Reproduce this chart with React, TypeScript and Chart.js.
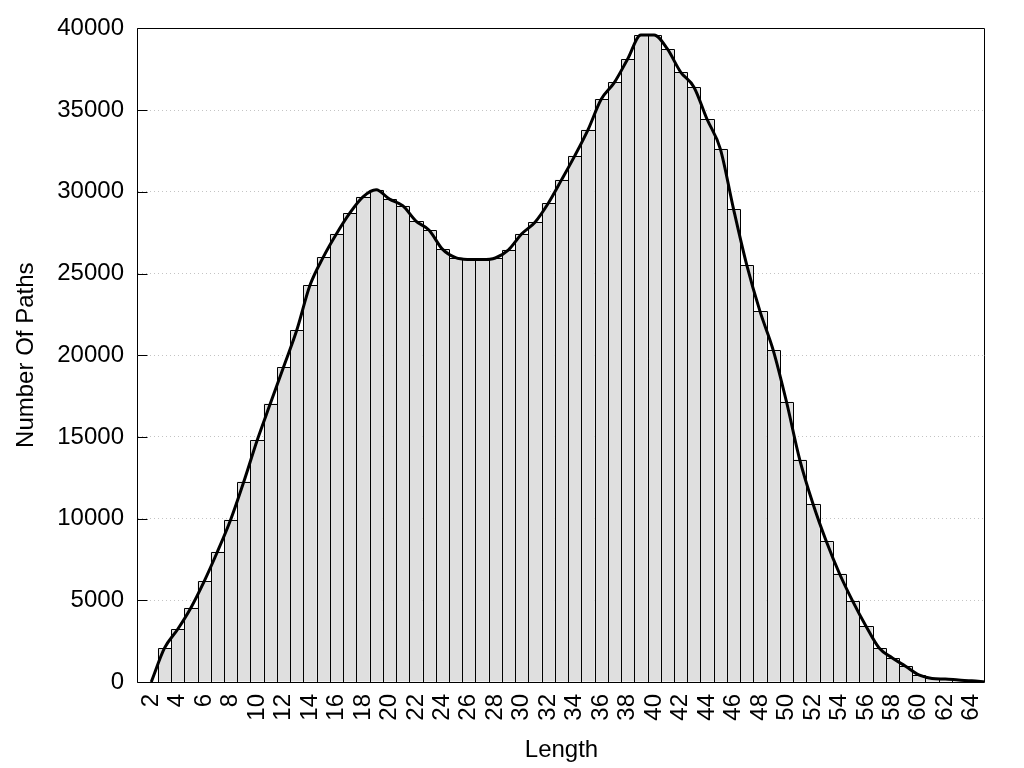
import { useEffect, useRef } from "react";
import { Chart, registerables } from "chart.js";

Chart.register(...registerables);

const lengths = [
  2, 3, 4, 5, 6, 7, 8, 9, 10, 11, 12, 13, 14, 15, 16, 17, 18, 19, 20, 21, 22,
  23, 24, 25, 26, 27, 28, 29, 30, 31, 32, 33, 34, 35, 36, 37, 38, 39, 40, 41,
  42, 43, 44, 45, 46, 47, 48, 49, 50, 51, 52, 53, 54, 55, 56, 57, 58, 59, 60,
  61, 62, 63, 64, 65,
];

const pathCounts = [
  0, 2070, 3230, 4550, 6160, 7970, 9930, 12270, 14780, 17040, 19280, 21540,
  24290, 26000, 27430, 28690, 29690, 30120, 29550, 29150, 28210, 27650, 26490,
  25970, 25860, 25850, 25950, 26450, 27430, 28140, 29300, 30730, 32200, 33790,
  35660, 36700, 38130, 39600, 39600, 38740, 37330, 36420, 34440, 32630, 28940,
  25510, 22680, 20300, 17150, 13610, 10910, 8630, 6640, 4950, 3430, 2080, 1470,
  960, 430, 220, 180, 120, 70, 0,
];

const xTickValues = [
  2, 4, 6, 8, 10, 12, 14, 16, 18, 20, 22, 24, 26, 28, 30, 32, 34, 36, 38, 40,
  42, 44, 46, 48, 50, 52, 54, 56, 58, 60, 62, 64,
];

const xTitle = "Length";
const yTitle = "Number Of Paths";

// Crisp 1px outlines for the bars, taken from the bar elements Chart.js laid out
const barOutlinePlugin = {
  id: "barOutline",
  afterDatasetDraw(chart: any, args: any) {
    const meta = args.meta;
    if (meta.type !== "bar") return;
    const { ctx, chartArea: a } = chart;
    ctx.save();
    ctx.beginPath();
    ctx.rect(a.left, a.top, a.right - a.left, a.bottom - a.top);
    ctx.clip();
    ctx.strokeStyle = "#000";
    ctx.lineWidth = 1;
    ctx.beginPath();
    meta.data.forEach((el: any) => {
      const p = el.getProps(["x", "y", "base", "width"], true);
      if (Math.abs(p.base - p.y) < 0.5) return;
      const l = Math.round(p.x - p.width / 2) + 0.5;
      const r = Math.round(p.x + p.width / 2) + 0.5;
      const t = Math.round(p.y) + 0.5;
      const b = Math.round(p.base);
      ctx.moveTo(l, b);
      ctx.lineTo(l, t);
      ctx.lineTo(r, t);
      ctx.lineTo(r, b);
    });
    ctx.stroke();
    ctx.restore();
  },
};

const framePlugin = {
  id: "frameBox",
  afterDraw(chart: any) {
    const { ctx, chartArea: a, scales } = chart;
    const l = Math.round(a.left) - 0.5;
    const r = Math.round(a.right) - 0.5;
    const t = Math.round(a.top) + 0.5;
    const b = Math.round(a.bottom) + 0.5;
    ctx.save();
    ctx.strokeStyle = "#000";
    ctx.lineWidth = 1;
    ctx.beginPath();
    ctx.rect(l, t, r - l, b - t);
    scales.y.ticks.forEach((tk: any) => {
      const y = Math.round(scales.y.getPixelForValue(tk.value)) + 0.5;
      ctx.moveTo(l, y);
      ctx.lineTo(l + 10, y);
    });
    ctx.stroke();
    ctx.restore();
  },
};

export default function App() {
  const ref = useRef<HTMLCanvasElement | null>(null);

  useEffect(() => {
    if (!ref.current) return;
    Chart.defaults.font.family = "'Liberation Sans', Arial, sans-serif";
    Chart.defaults.color = "#000";
    const points = lengths.map((x, i) => ({ x, y: pathCounts[i] }));
    const chart = new Chart(ref.current, {
      type: "bar",
      data: {
        datasets: [
          {
            type: "line",
            data: points,
            borderColor: "#000",
            borderWidth: 3,
            pointRadius: 0,
            cubicInterpolationMode: "monotone",
            fill: false,
            order: 0,
          } as any,
          {
            type: "bar",
            data: points,
            backgroundColor: "#dfdfdf",
            borderWidth: 0,
            barPercentage: 1,
            categoryPercentage: 1,
            inflateAmount: 0,
            order: 1,
          } as any,
        ],
      },
      options: {
        responsive: false,
        animation: false,
        devicePixelRatio: 1,
        layout: { padding: { top: 27, right: 39, bottom: 0, left: 0 } },
        plugins: {
          legend: { display: false },
          tooltip: { enabled: false },
        },
        scales: {
          x: {
            type: "linear",
            min: 1,
            max: 65,
            offset: false,
            grid: { display: false, drawTicks: false },
            border: { display: false },
            afterBuildTicks: (s: any) => {
              s.ticks = xTickValues.map((v) => ({ value: v }));
            },
            afterFit: (s: any) => {
              s.height = 86;
            },
            ticks: {
              autoSkip: false,
              minRotation: 90,
              maxRotation: 90,
              padding: 12,
              color: "#000",
              font: { size: 24 },
              callback: (v: any) => String(v),
            },
            title: {
              display: true,
              text: xTitle,
              color: "#000",
              font: { size: 24 },
              padding: { top: 0, bottom: 3 },
            },
          },
          y: {
            type: "linear",
            min: 0,
            max: 40000,
            grid: { color: "#c4c4c4", lineWidth: 1, drawTicks: false },
            border: { display: false, dash: [1, 3] },
            afterFit: (s: any) => {
              s.width = 138;
            },
            ticks: {
              stepSize: 5000,
              padding: 14,
              color: "#000",
              font: { size: 24 },
              callback: (v: any) => String(v),
            },
            title: {
              display: true,
              text: yTitle,
              color: "#000",
              font: { size: 24 },
              padding: { top: 12, bottom: 0 },
            },
          },
        },
      } as any,
      plugins: [barOutlinePlugin, framePlugin],
    });
    return () => chart.destroy();
  }, []);

  return (
    <div style={{ position: "absolute", left: 0, top: 0, width: 1024, height: 768, background: "#fff" }}>
      <canvas ref={ref} width={1024} height={768} />
    </div>
  );
}
